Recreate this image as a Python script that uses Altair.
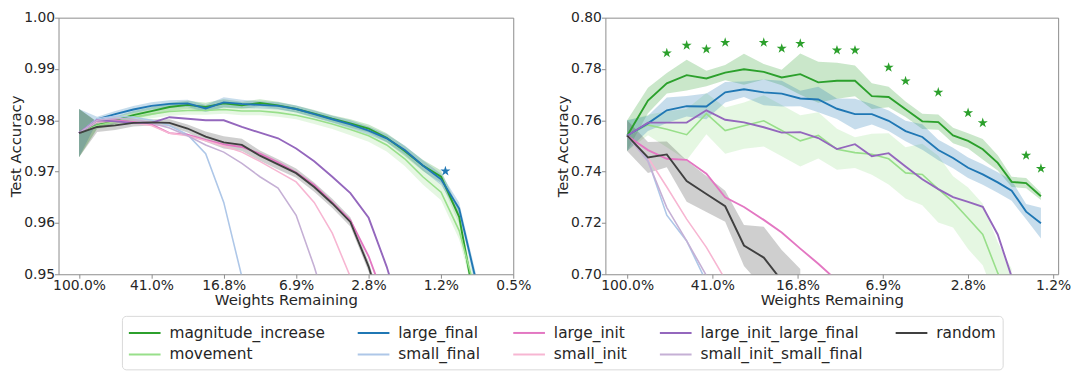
import altair as alt
import pandas as pd

# ---------------- series / styling ----------------
SERIES = ["magnitude_increase", "large_final", "large_init", "large_init_large_final", "random",
          "movement", "small_final", "small_init", "small_init_small_final"]
COLORS = ["#2ca02c", "#1f77b4", "#e377c2", "#9467bd", "#404040",
          "#98df8a", "#aec7e8", "#f7b6d2", "#c5b0d5"]
COLOR_OF = dict(zip(SERIES, COLORS))
DRAW_ORDER = ["magnitude_increase", "movement", "large_final", "small_final", "large_init",
              "small_init", "large_init_large_final", "small_init_small_final", "random"]
THICK = {"magnitude_increase", "large_final", "large_init", "large_init_large_final", "random"}

# ---------------- left panel data ----------------
L_X = [100, 80, 64, 51.2, 40.96, 32.77, 26.21, 20.97, 16.78, 13.42, 10.74, 8.59, 6.87, 5.50,
       4.40, 3.52, 2.81, 2.25, 1.80, 1.44, 1.15, 0.92, 0.74, 0.59]
L_TICKS = [100, 40.96, 16.777, 6.872, 2.815, 1.153, 0.472]
L_Y_TICKS = [0.95, 0.96, 0.97, 0.98, 0.99, 1.00]

L_magnitude_increase = [0.9775, 0.9790, 0.9800, 0.9810, 0.9818, 0.9826, 0.9830, 0.9826, 0.9833, 0.9829,
                        0.9834, 0.9829, 0.9822, 0.9813, 0.9803, 0.9794, 0.9784, 0.9766, 0.9740, 0.9712,
                        0.9690, 0.9612, 0.9424]
L_movement = [0.9775, 0.9790, 0.9797, 0.9806, 0.9812, 0.9817, 0.9819, 0.9819, 0.9821, 0.9818,
              0.9818, 0.9815, 0.9810, 0.9802, 0.9793, 0.9782, 0.9770, 0.9752, 0.9725, 0.9690,
              0.9660, 0.9585, 0.9457]
L_large_final = [0.9775, 0.9802, 0.9812, 0.9821, 0.9828, 0.9832, 0.9833, 0.9823, 0.9835, 0.9832,
                 0.9830, 0.9828, 0.9822, 0.9812, 0.9802, 0.9792, 0.9780, 0.9765, 0.9742, 0.9712,
                 0.9685, 0.9628, 0.9481]
L_small_final = [0.9775, 0.9803, 0.9808, 0.9806, 0.9800, 0.9790, 0.9772, 0.9735, 0.9640, 0.9495, 0.9300]
L_large_init = [0.9775, 0.9800, 0.9800, 0.9797, 0.9792, 0.9775, 0.9772, 0.9762, 0.9753, 0.9748,
                0.9735, 0.9718, 0.9698, 0.9674, 0.9640, 0.9605, 0.9535, 0.9440]
L_small_init = [0.9775, 0.9797, 0.9798, 0.9795, 0.9790, 0.9775, 0.9770, 0.9760, 0.9750, 0.9738,
                0.9720, 0.9700, 0.9680, 0.9640, 0.9580, 0.9495, 0.9400]
L_large_init_large_final = [0.9775, 0.9800, 0.9798, 0.9795, 0.9795, 0.9806, 0.9803, 0.9800, 0.9800, 0.9787,
                            0.9776, 0.9765, 0.9745, 0.9720, 0.9690, 0.9658, 0.9610, 0.9515, 0.9400]
L_small_init_small_final = [0.9775, 0.9800, 0.9804, 0.9802, 0.9795, 0.9785, 0.9770, 0.9752, 0.9738, 0.9716,
                            0.9690, 0.9668, 0.9615, 0.9515, 0.9400]
L_random = [0.9775, 0.9787, 0.9790, 0.9795, 0.9796, 0.9795, 0.9784, 0.9768, 0.9757, 0.9752,
            0.9731, 0.9714, 0.9697, 0.9670, 0.9638, 0.9602, 0.9515, 0.9400]

# band half-widths (left)
L_HW_magnitude_increase = [0.0047, 0.0006, 0.0007, 0.0008, 0.0008, 0.0008, 0.0008, 0.0008, 0.0008, 0.0007,
                           0.0007, 0.0007, 0.0007, 0.0007, 0.0007, 0.0008, 0.0008, 0.0009, 0.0010, 0.0011,
                           0.0012, 0.0013, 0.0014]
L_HW_movement = [0.0047, 0.0007, 0.0008, 0.0008, 0.0008, 0.0008, 0.0008, 0.0008, 0.0008, 0.0008,
                 0.0008, 0.0008, 0.0008, 0.0009, 0.0010, 0.0011, 0.0012, 0.0013, 0.0014, 0.0015,
                 0.0016, 0.0017, 0.0018]
L_HW_large_final = [0.0047, 0.0005, 0.0006, 0.0007, 0.0007, 0.0007, 0.0007, 0.0007, 0.0010, 0.0008,
                    0.0007, 0.0007, 0.0007, 0.0007, 0.0007, 0.0008, 0.0008, 0.0008, 0.0009, 0.0010,
                    0.0011, 0.0012, 0.0013]
L_HW_random = [0.0047, 0.0010, 0.0009, 0.0007, 0.0006, 0.0007, 0.0008, 0.0010, 0.0012, 0.0012,
               0.0010, 0.0010, 0.0009, 0.0009, 0.0009, 0.0009, 0.0010, 0.0010]

L_STAR_X = [1.09]
L_STAR_Y = [0.9701]

# ---------------- right panel data ----------------
R_X = [100, 80.4, 66.0, 53.6, 43.6, 35.8, 29.4, 23.9, 19.8, 16.3, 13.5, 11.1, 9.19, 7.70, 6.46,
       5.41, 4.54, 3.84, 3.29, 2.81, 2.41, 2.06, 1.78, 1.53, 1.31]
R_TICKS = [100, 40.96, 16.777, 6.872, 2.815, 1.153]
R_Y_TICKS = [0.70, 0.72, 0.74, 0.76, 0.78, 0.80]

R_magnitude_increase = [0.7540, 0.7677, 0.7744, 0.7776, 0.7763, 0.7786, 0.7799, 0.7789, 0.7767, 0.7780,
                        0.7748, 0.7754, 0.7754, 0.7694, 0.7691, 0.7643, 0.7596, 0.7593, 0.7541, 0.7520,
                        0.7487, 0.7434, 0.7360, 0.7355, 0.7304]
R_movement = [0.7540, 0.7582, 0.7565, 0.7544, 0.7626, 0.7560, 0.7579, 0.7598, 0.7560, 0.7520,
              0.7541, 0.7487, 0.7474, 0.7468, 0.7450, 0.7395, 0.7389, 0.7332, 0.7282, 0.7218,
              0.7155, 0.7005, 0.6900]
R_large_final = [0.7540, 0.7588, 0.7639, 0.7655, 0.7654, 0.7709, 0.7721, 0.7709, 0.7704, 0.7685,
                 0.7681, 0.7645, 0.7624, 0.7624, 0.7598, 0.7558, 0.7535, 0.7484, 0.7453, 0.7415,
                 0.7389, 0.7358, 0.7326, 0.7244, 0.7199]
R_small_final = [0.7540, 0.7445, 0.7230, 0.7130, 0.6970]
R_large_init = [0.7540, 0.7484, 0.7450, 0.7446, 0.7392, 0.7300, 0.7262, 0.7212, 0.7163, 0.7100,
                0.7041, 0.6975, 0.6900]
R_small_init = [0.7540, 0.7455, 0.7340, 0.7215, 0.7105, 0.6980, 0.6900]
R_large_init_large_final = [0.7540, 0.7591, 0.7591, 0.7591, 0.7639, 0.7602, 0.7592, 0.7573, 0.7552, 0.7554,
                            0.7531, 0.7488, 0.7507, 0.7460, 0.7472, 0.7420, 0.7370, 0.7332, 0.7301, 0.7282,
                            0.7263, 0.7155, 0.6990, 0.6850]
R_small_init_small_final = [0.7540, 0.7440, 0.7260, 0.7130, 0.6995, 0.6900]
R_random = [0.7540, 0.7455, 0.7467, 0.7363, 0.7313, 0.7265, 0.7112, 0.7065, 0.6975, 0.6900]

R_HW_magnitude_increase = [0.006, 0.005, 0.004, 0.006, 0.003, 0.003, 0.006, 0.003, 0.003, 0.008,
                           0.008, 0.007, 0.006, 0.005, 0.004, 0.003, 0.003, 0.003, 0.003, 0.003,
                           0.004, 0.003, 0.002, 0.002, 0.0015]
R_HW_movement = [0.006, 0.004, 0.007, 0.010, 0.008, 0.009, 0.009, 0.010, 0.010, 0.010,
                 0.009, 0.008, 0.006, 0.008, 0.010, 0.010, 0.012, 0.013, 0.010, 0.012,
                 0.012, 0.012, 0.012]
R_HW_large_final = [0.006, 0.003, 0.005, 0.004, 0.005, 0.004, 0.003, 0.005, 0.005, 0.003,
                    0.005, 0.004, 0.006, 0.004, 0.004, 0.004, 0.005, 0.004, 0.004, 0.004,
                    0.004, 0.004, 0.004, 0.003, 0.006]
R_HW_random = [0.006, 0.006, 0.005, 0.008, 0.007, 0.006, 0.008, 0.012, 0.012, 0.012]

R_STAR_X = [66.0, 53.6, 43.6, 35.8, 23.9, 19.8, 16.3, 11.1, 9.19, 6.46, 5.41, 3.84, 2.81, 2.41, 1.53, 1.31]
R_STAR_Y = [0.7862, 0.7892, 0.7877, 0.7903, 0.7903, 0.7880, 0.7899, 0.7873, 0.7873, 0.7806,
            0.7753, 0.7709, 0.7629, 0.7590, 0.7463, 0.7412]

L_LINES = {
    "magnitude_increase": L_magnitude_increase, "movement": L_movement,
    "large_final": L_large_final, "small_final": L_small_final,
    "large_init": L_large_init, "small_init": L_small_init,
    "large_init_large_final": L_large_init_large_final,
    "small_init_small_final": L_small_init_small_final, "random": L_random,
}
L_BANDS = {"magnitude_increase": L_HW_magnitude_increase, "movement": L_HW_movement,
           "large_final": L_HW_large_final, "random": L_HW_random}
R_LINES = {
    "magnitude_increase": R_magnitude_increase, "movement": R_movement,
    "large_final": R_large_final, "small_final": R_small_final,
    "large_init": R_large_init, "small_init": R_small_init,
    "large_init_large_final": R_large_init_large_final,
    "small_init_small_final": R_small_init_small_final, "random": R_random,
}
R_BANDS = {"magnitude_increase": R_HW_magnitude_increase, "movement": R_HW_movement,
           "large_final": R_HW_large_final, "random": R_HW_random}

FONT = "DejaVu Sans"
TXT = "#262626"
FRAME = "#8c8c8c"
STAR = "M0,-1L0.2245,-0.309L0.951,-0.309L0.363,0.118L0.588,0.809L0,0.382L-0.588,0.809L-0.363,0.118L-0.951,-0.309L-0.2245,-0.309Z"
LEGEND_LINE = "M-1,0H2.2"

color_scale = alt.Scale(domain=SERIES, range=COLORS)
legend = alt.Legend(
    orient="none", legendX=64, legendY=301, direction="horizontal", columns=5, title=None,
    symbolType=LEGEND_LINE, symbolSize=400, symbolStrokeWidth=2, labelFontSize=15.5, labelFont=FONT,
    labelColor=TXT, labelOffset=20, columnPadding=29, rowPadding=2, padding=6,
    strokeColor="#d9d9d9", fillColor="white", cornerRadius=4, labelLimit=300,
)


def panel(xs, lines, bands, star_x, star_y, star_color, ticks, xdom, yticks, ydom, width, height):
    xenc = alt.X("pct:Q",
                 scale=alt.Scale(type="log", domain=xdom, reverse=True, nice=False),
                 axis=alt.Axis(values=ticks, labelExpr="format(datum.value, '.1f') + '%'",
                               title="Weights Remaining", labelFlush=False, labelOverlap=False))
    yaxis = alt.Axis(values=yticks, format=".2f", title="Test Accuracy")
    yscale = alt.Scale(domain=ydom, nice=False, zero=False)

    layers = []
    for name, hw in bands.items():
        vals = lines[name]
        bdf = pd.DataFrame({
            "pct": xs[:len(hw)],
            "lo": [vals[i] - h for i, h in enumerate(hw)],
            "hi": [vals[i] + h for i, h in enumerate(hw)],
        })
        layers.append(
            alt.Chart(bdf).mark_area(clip=True, opacity=0.25, color=COLOR_OF[name]).encode(
                x=xenc,
                y=alt.Y("lo:Q", scale=yscale, axis=yaxis),
                y2="hi:Q",
            )
        )
    for name in DRAW_ORDER:
        vals = lines[name]
        df = pd.DataFrame({"pct": xs[:len(vals)], "acc": vals, "series": name})
        layers.append(
            alt.Chart(df).mark_line(clip=True, strokeWidth=1.9 if name in THICK else 1.6).encode(
                x=xenc,
                y=alt.Y("acc:Q", scale=yscale, axis=yaxis),
                color=alt.Color("series:N", scale=color_scale, legend=legend),
            )
        )
    sdf = pd.DataFrame({"pct": star_x, "acc": star_y})
    layers.append(
        alt.Chart(sdf).mark_point(shape=STAR, filled=True, size=115, opacity=1, color=star_color,
                                  clip=True).encode(
            x=xenc, y=alt.Y("acc:Q", scale=yscale, axis=yaxis))
    )
    return alt.layer(*layers).properties(width=width, height=height)


left = panel(L_X, L_LINES, L_BANDS, L_STAR_X, L_STAR_Y, "#1f77b4", L_TICKS, [0.472, 128.8],
             L_Y_TICKS, [0.95, 1.0], 459, 259)
right = panel(R_X, R_LINES, R_BANDS, R_STAR_X, R_STAR_Y, "#2ca02c", R_TICKS, [1.094, 125.6],
              R_Y_TICKS, [0.70, 0.80], 457, 259)

chart = alt.hconcat(left, right, spacing=23).resolve_scale(
    x="independent", y="independent", color="shared"
).properties(
    padding={"left": 0, "top": 0, "right": 0, "bottom": 10}
).configure(
    font=FONT,
).configure_view(
    stroke=FRAME, strokeWidth=1,
).configure_axis(
    grid=False, domain=False, tickColor=FRAME, tickSize=4, labelFont=FONT, labelFontSize=14,
    labelColor=TXT, titleFont=FONT, titleFontSize=15, titleFontWeight="normal", titleColor=TXT,
    labelPadding=0,
).configure_axisX(
    titlePadding=1,
).configure_axisY(
    titlePadding=0,
)

chart.save("out.html", embed_options={"renderer": "svg", "actions": False})
